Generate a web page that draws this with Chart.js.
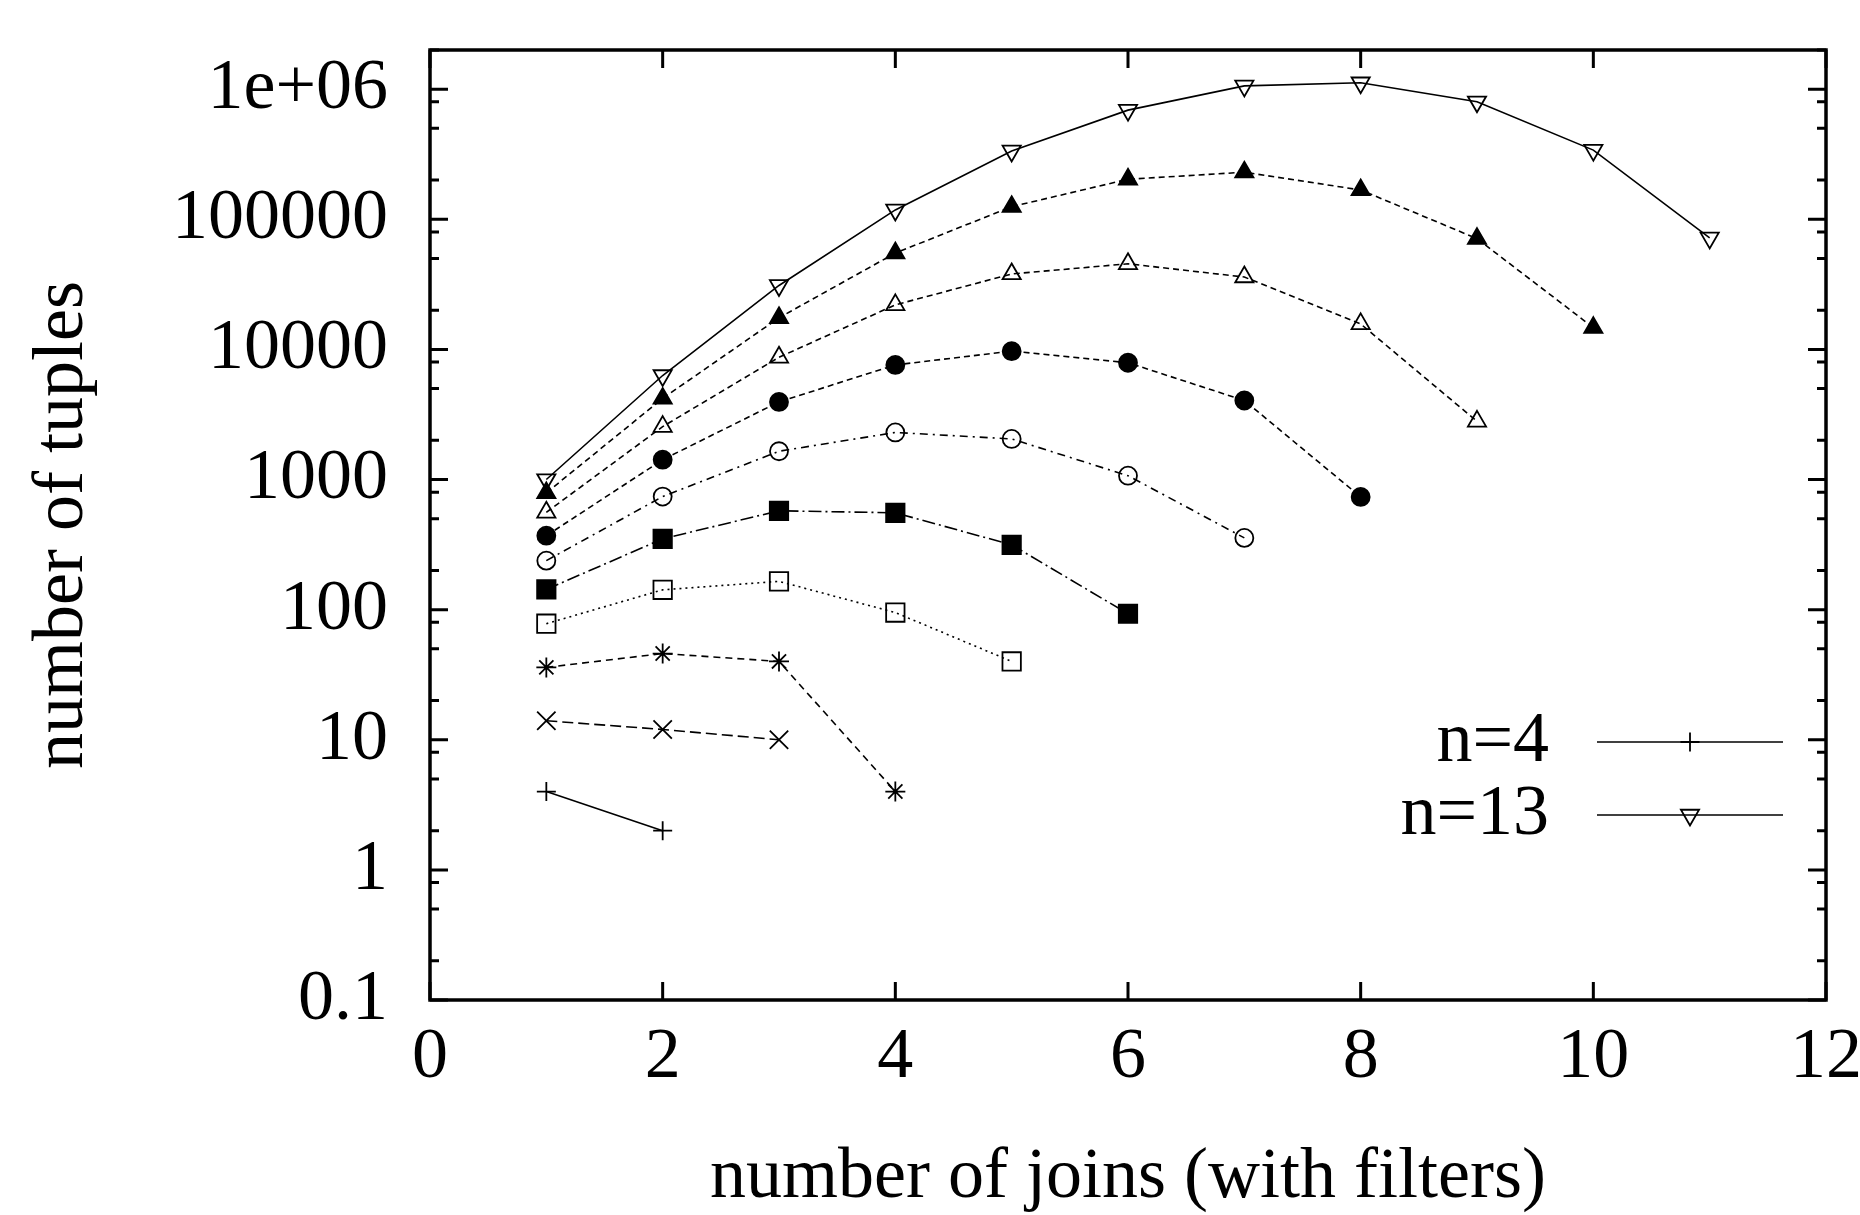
<!DOCTYPE html>
<html>
<head>
<meta charset="utf-8">
<title>number of tuples</title>
<script src="https://cdn.jsdelivr.net/npm/chart.js@4.4.1/dist/chart.umd.min.js"></script>
<style>
  html, body { margin: 0; padding: 0; background: #fff; overflow: hidden; }
  #wrap { width: 1860px; height: 1215px; overflow: hidden; }
  canvas { display: block; }
</style>
</head>
<body>
<div id="wrap"><canvas id="joinsChart" width="1900" height="1215"></canvas></div>
<script>
// number of joins on the x axis
const joins = [1, 2, 3, 4, 5, 6, 7, 8, 9, 10, 11];

// number of tuples per series
const n4 = [4, 2];
const n5 = [14, 12, 10];
const n6 = [36, 46, 40, 4];
const n7 = [78, 142, 165, 95, 40];
const n8 = [143, 350, 575, 555, 315, 93];
const n9 = [238, 740, 1650, 2300, 2050, 1070, 356];
const n10 = [370, 1420, 3950, 7600, 9700, 7900, 4050, 735];
const n11 = [560, 2550, 8700, 22000, 38000, 45500, 36000, 15700, 2800];
const n12 = [790, 4200, 17500, 55000, 125000, 203000, 230000, 168000, 71000, 14700];
const n13 = [1000, 6300, 31000, 118000, 335000, 690000, 1060000, 1120000, 800000, 340000, 72000];

const seriesNames = ["n=4", "n=5", "n=6", "n=7", "n=8", "n=9", "n=10", "n=11", "n=12", "n=13"];
const seriesValues = [n4, n5, n6, n7, n8, n9, n10, n11, n12, n13];
const legendNames = ["n=4", "n=13"];

const xTickValues = [0, 2, 4, 6, 8, 10, 12];
const yTickValues = [0.1, 1, 10, 100, 1000, 10000, 100000, 1000000];
const yTickLabels = ["0.1", "1", "10", "100", "1000", "10000", "100000", "1e+06"];
const yMinorFactors = [2, 5, 8];

const FONT = '"Liberation Serif", "Times New Roman", "DejaVu Serif", serif';
const FONT_SIZE = 72;

// gnuplot point types 1..10 with the dash pattern each line shows
const looks = [
  { style: "cross",    r: 9.5,  fill: false, dash: [] },
  { style: "crossRot", r: 13,   fill: false, dash: [11, 5] },
  { style: "star",     r: 10,   fill: false, dash: [7, 5] },
  { style: "rect",     r: 13,   fill: false, dash: [2, 4] },
  { style: "rect",     r: 13,   fill: true,  dash: [13, 4, 2, 4] },
  { style: "circle",   r: 9,    fill: false, dash: [8, 5, 2, 5] },
  { style: "circle",   r: 9,    fill: true,  dash: [6, 4] },
  { style: "triangle", r: 10.5, fill: false, dash: [6, 4] },
  { style: "triangle", r: 10.5, fill: true,  dash: [6, 4] },
  { style: "triangle", r: 10.5, fill: false, dash: [], rot: 180 }
];

const datasets = seriesValues.map((vals, i) => {
  const lk = looks[i];
  return {
    label: seriesNames[i],
    data: vals.map((v, j) => ({ x: joins[j], y: v })),
    borderColor: "#000",
    borderWidth: 1.6,
    borderDash: lk.dash,
    pointStyle: lk.style,
    pointRadius: lk.r,
    pointRotation: lk.rot || 0,
    pointBorderWidth: 1.8,
    pointBorderColor: "#000",
    pointBackgroundColor: lk.fill ? "#000" : "rgba(0,0,0,0)",
    tension: 0,
    fill: false,
    clip: false
  };
});

// border box plus inward ticks on all four sides, like gnuplot
const gnuplotFrame = {
  id: "gnuplotFrame",
  afterDraw(chart) {
    const { ctx, chartArea: a } = chart;
    const x = chart.scales.x, y = chart.scales.y;
    ctx.save();
    ctx.strokeStyle = "#000";
    ctx.setLineDash([]);
    ctx.lineWidth = 3;
    ctx.beginPath();
    xTickValues.forEach(v => {
      const px = x.getPixelForValue(v);
      ctx.moveTo(px, a.bottom); ctx.lineTo(px, a.bottom - 18);
      ctx.moveTo(px, a.top); ctx.lineTo(px, a.top + 18);
    });
    yTickValues.forEach(v => {
      const py = y.getPixelForValue(v);
      ctx.moveTo(a.left, py); ctx.lineTo(a.left + 18, py);
      ctx.moveTo(a.right, py); ctx.lineTo(a.right - 18, py);
      yMinorFactors.forEach(f => {
        if (v * f > y.max) return;
        const pm = y.getPixelForValue(v * f);
        ctx.moveTo(a.left, pm); ctx.lineTo(a.left + 9, pm);
        ctx.moveTo(a.right, pm); ctx.lineTo(a.right - 9, pm);
      });
    });
    ctx.stroke();
    ctx.lineWidth = 3.5;
    ctx.strokeRect(a.left, a.top, a.right - a.left, a.bottom - a.top);
    ctx.restore();
  }
};

// key in the lower right corner: text, then line sample with the marker
const gnuplotKey = {
  id: "gnuplotKey",
  afterDraw(chart) {
    const { ctx, chartArea: a } = chart;
    const lineRight = a.right - 43;
    const lineLeft = lineRight - 186;
    const textRight = lineLeft - 48;
    ctx.save();
    ctx.font = FONT_SIZE + "px " + FONT;
    ctx.textAlign = "right";
    ctx.textBaseline = "middle";
    legendNames.forEach((name, row) => {
      const ds = chart.data.datasets[seriesNames.indexOf(name)];
      const yPos = a.top + 692 + row * 73;
      ctx.fillStyle = "#000";
      ctx.fillText(name, textRight, yPos);
      ctx.strokeStyle = "#000";
      ctx.lineWidth = ds.borderWidth;
      ctx.setLineDash(ds.borderDash);
      ctx.beginPath();
      ctx.moveTo(lineLeft, yPos);
      ctx.lineTo(lineRight, yPos);
      ctx.stroke();
      ctx.setLineDash([]);
      ctx.fillStyle = ds.pointBackgroundColor;
      ctx.lineWidth = ds.pointBorderWidth;
      Chart.helpers.drawPoint(ctx, {
        pointStyle: ds.pointStyle,
        radius: ds.pointRadius,
        rotation: ds.pointRotation,
        borderWidth: ds.pointBorderWidth
      }, (lineLeft + lineRight) / 2, yPos);
    });
    ctx.restore();
  }
};

const ctx = document.getElementById("joinsChart").getContext("2d");
new Chart(ctx, {
  type: "line",
  data: { datasets: datasets },
  plugins: [gnuplotFrame, gnuplotKey],
  options: {
    responsive: false,
    animation: false,
    events: [],
    layout: { padding: { top: 50, right: 74, bottom: 0, left: 0 } },
    plugins: {
      legend: { display: false },
      tooltip: { enabled: false }
    },
    scales: {
      x: {
        type: "linear",
        min: 0,
        max: 12,
        afterBuildTicks: s => { s.ticks = xTickValues.map(v => ({ value: v })); },
        afterFit: s => { s.height = 215; },
        grid: { display: false, drawTicks: false },
        border: { display: false },
        ticks: {
          color: "#000",
          font: { family: FONT, size: FONT_SIZE },
          padding: 15,
          maxRotation: 0,
          autoSkip: false,
          callback: v => String(v)
        },
        title: {
          display: true,
          text: "number of joins (with filters)",
          color: "#000",
          font: { family: FONT, size: FONT_SIZE },
          padding: { top: 0, bottom: -6 }
        }
      },
      y: {
        type: "logarithmic",
        min: 0.1,
        max: 2000000,
        afterBuildTicks: s => { s.ticks = yTickValues.map(v => ({ value: v })); },
        afterFit: s => { s.width = 430; s.paddingTop = 0; s.paddingBottom = 0; },
        grid: { display: false, drawTicks: false },
        border: { display: false },
        ticks: {
          color: "#000",
          font: { family: FONT, size: FONT_SIZE },
          padding: 42,
          autoSkip: false,
          callback: v => yTickLabels[yTickValues.indexOf(v)]
        },
        title: {
          display: true,
          text: "number of tuples",
          color: "#000",
          font: { family: FONT, size: FONT_SIZE },
          padding: { top: 20, bottom: 0 }
        }
      }
    }
  }
});
</script>
</body>
</html>
